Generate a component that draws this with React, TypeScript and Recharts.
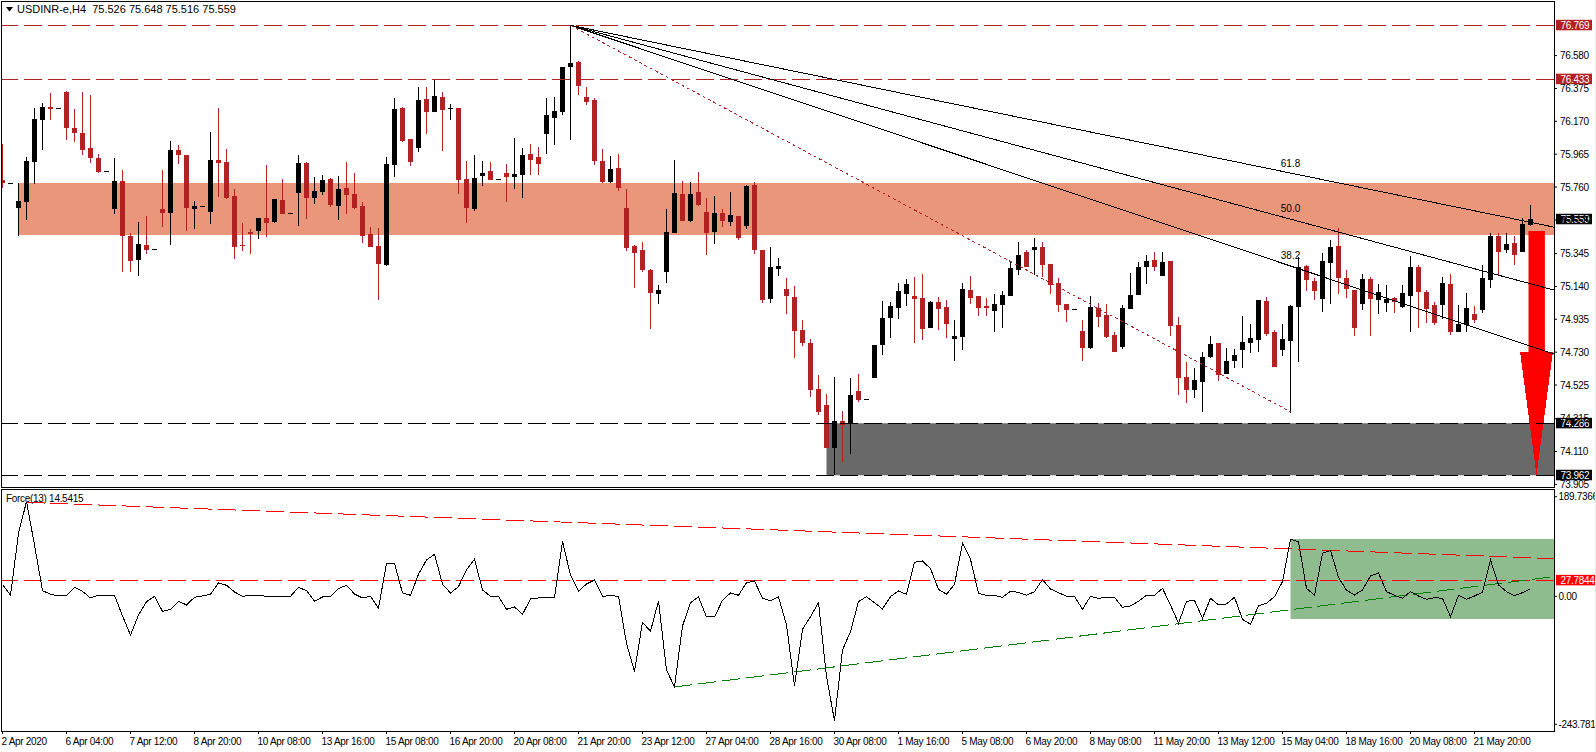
import React from "react";
import { ComposedChart, Bar, Line, XAxis, YAxis, ReferenceLine, ReferenceArea, ReferenceDot } from "recharts";

const highs = [
76.028,75.787,75.785,75.947,76.253,76.284,76.347,76.251,76.359,76.247,
76.353,76.334,75.966,75.858,75.941,75.866,75.473,75.542,75.579,75.371,
75.866,76.047,76.022,75.960,75.673,75.639,76.103,76.253,75.997,75.748,
75.535,75.498,75.567,75.897,75.685,75.810,75.596,75.960,75.914,75.823,
75.835,75.816,75.829,75.916,75.847,75.667,75.511,75.504,75.947,76.315,
76.259,76.060,76.384,76.384,76.430,76.353,76.278,76.253,75.922,75.960,
75.922,75.916,75.808,75.904,76.066,76.003,76.028,76.010,76.315,76.322,
76.509,76.769,76.546,76.384,76.315,75.997,75.954,75.966,75.748,75.398,
75.417,75.248,75.149,75.623,75.929,75.798,75.791,75.854,75.691,75.704,
75.623,75.729,75.579,75.773,75.791,75.367,75.386,75.317,75.192,75.142,
74.930,74.812,74.587,74.468,74.575,74.362,74.568,74.593,74.435,74.774,
75.049,75.043,75.161,75.186,75.199,75.217,75.049,75.074,75.055,74.930,
75.161,75.205,75.080,75.067,75.092,75.111,75.298,75.417,75.367,75.442,
75.417,75.280,75.192,75.030,74.997,74.930,75.080,75.036,75.030,74.855,
75.024,75.223,75.292,75.336,75.355,75.355,75.298,74.949,74.668,74.631,
74.731,74.830,74.787,74.755,74.749,74.955,74.905,75.055,75.074,74.868,
74.905,75.024,75.323,75.273,75.192,75.348,75.429,75.504,75.242,75.117,
75.217,75.199,75.155,75.149,75.074,75.149,75.330,75.273,75.117,75.043,
75.199,75.217,75.024,75.099,75.018,75.273,75.473,75.473,75.473,75.454,75.567,75.648];

const lows = [
75.756,75.787,75.456,75.554,75.779,75.991,76.178,76.251,76.053,76.041,
75.960,75.910,75.847,75.858,75.592,75.230,75.230,75.205,75.342,75.371,
75.511,75.398,75.904,75.486,75.498,75.639,75.529,75.698,75.685,75.311,
75.361,75.342,75.436,75.448,75.535,75.592,75.596,75.517,75.560,75.654,
75.710,75.635,75.554,75.592,75.623,75.411,75.386,75.055,75.267,75.823,
76.041,75.891,75.979,76.091,76.228,75.985,76.178,75.716,75.535,75.610,
75.766,75.804,75.808,75.667,75.748,75.691,75.835,75.835,75.966,76.022,
76.209,76.053,76.334,76.272,75.897,75.785,75.785,75.735,75.361,75.130,
75.230,74.874,75.030,75.161,75.473,75.548,75.542,75.642,75.336,75.404,
75.511,75.517,75.429,75.498,75.342,75.036,75.036,75.205,74.968,74.693,
74.768,74.450,74.337,74.131,73.961,74.044,74.094,74.419,74.435,74.568,
74.712,74.818,74.936,75.018,74.787,74.805,74.880,74.868,74.818,74.674,
74.743,75.030,74.955,74.955,74.855,74.880,75.080,75.211,75.261,75.211,
75.199,75.092,74.980,74.918,74.997,74.674,74.749,74.887,74.818,74.731,
74.749,74.999,75.086,75.155,75.236,75.205,74.830,74.462,74.412,74.443,
74.356,74.693,74.550,74.593,74.631,74.631,74.724,74.731,74.830,74.637,
74.706,74.350,74.668,75.111,75.055,74.980,75.030,75.092,75.067,74.830,
74.993,74.830,74.968,74.980,74.974,75.005,74.855,74.880,74.911,74.899,
74.936,74.837,74.855,74.855,74.911,74.974,75.130,75.211,75.348,75.273,75.355,75.516];

const opens = [
75.804,75.787,75.629,75.667,75.916,76.178,76.259,76.251,76.353,76.128,
76.097,76.003,75.941,75.858,75.623,75.798,75.454,75.305,75.398,75.371,
75.623,75.598,75.991,75.960,75.623,75.639,75.604,75.929,75.916,75.704,
75.398,75.479,75.486,75.567,75.542,75.679,75.596,75.723,75.910,75.691,
75.729,75.810,75.642,75.754,75.716,75.642,75.467,75.392,75.273,75.897,
76.253,76.060,76.003,76.309,76.228,76.322,76.247,76.253,75.810,75.621,
75.829,75.860,75.808,75.847,75.823,75.835,75.966,75.947,76.091,76.191,
76.228,76.509,76.540,76.322,76.303,75.922,75.791,75.879,75.629,75.392,
75.367,75.242,75.092,75.230,75.473,75.716,75.548,75.729,75.604,75.479,
75.598,75.542,75.579,75.517,75.773,75.367,75.061,75.248,75.124,75.074,
74.868,74.787,74.500,74.400,74.131,74.300,74.281,74.487,74.435,74.568,
74.774,74.943,75.005,75.092,75.080,75.067,74.880,75.043,75.011,74.812,
74.824,75.117,75.080,75.018,74.986,75.024,75.080,75.242,75.355,75.367,
75.386,75.280,75.161,75.030,74.997,74.862,74.755,75.005,74.961,74.837,
74.762,74.999,75.086,75.261,75.305,75.205,75.298,74.899,74.575,74.493,
74.543,74.699,74.787,74.593,74.674,74.743,74.787,74.805,75.049,74.855,
74.743,74.799,75.011,75.267,75.174,75.061,75.286,75.392,75.192,75.117,
75.030,75.186,75.055,75.036,75.067,75.011,75.080,75.261,75.105,75.024,
75.024,75.155,74.855,74.899,74.968,74.993,75.180,75.454,75.367,75.411,75.355,75.526];

const closes = [
75.787,75.787,75.673,75.922,76.184,76.259,76.247,76.251,76.128,76.097,
75.991,75.941,75.854,75.858,75.798,75.454,75.298,75.404,75.367,75.371,
75.598,75.991,75.960,75.629,75.642,75.639,75.929,75.910,75.691,75.386,
75.392,75.467,75.567,75.535,75.685,75.592,75.596,75.910,75.691,75.735,
75.804,75.648,75.748,75.710,75.629,75.454,75.386,75.280,75.904,76.247,
76.047,75.916,76.303,76.228,76.328,76.241,76.251,75.804,75.629,75.816,
75.847,75.804,75.808,75.823,75.841,75.960,75.929,75.904,76.209,76.234,
76.509,76.534,76.390,76.291,75.922,75.791,75.872,75.754,75.379,75.348,
75.242,75.099,75.117,75.479,75.723,75.548,75.716,75.648,75.473,75.598,
75.548,75.585,75.442,75.766,75.367,75.055,75.261,75.267,75.080,74.862,
74.787,74.493,74.356,74.131,74.300,74.275,74.462,74.431,74.435,74.774,
74.943,75.018,75.111,75.155,75.061,74.874,75.043,74.999,74.905,74.830,
75.124,75.067,75.005,75.005,75.030,75.086,75.255,75.336,75.261,75.386,
75.273,75.149,75.024,74.993,74.997,74.755,75.011,74.949,74.824,74.731,
75.005,75.086,75.261,75.298,75.261,75.292,74.893,74.568,74.493,74.556,
74.699,74.780,74.587,74.674,74.712,74.793,74.818,75.055,74.843,74.637,
74.812,75.018,75.261,75.180,75.111,75.298,75.386,75.192,75.124,74.880,
75.186,75.061,75.105,75.061,75.043,75.099,75.261,75.105,74.999,74.911,
75.161,74.855,74.905,75.005,74.930,75.192,75.454,75.355,75.404,75.336,75.529,75.559];

const force = [
22.2,1.9,120,180.3,97.8,10.8,3.8,0.6,1.9,17.1,
9.5,-3.2,1.9,0.6,1.9,-37.5,-73.7,-35.6,-10.2,0,
-28.6,-24.8,-9.5,-16.5,-1.9,0.6,3.8,25.4,21,8.3,
0,1.9,1.9,0,0,0,0,17.1,10.8,-9.5,
-1.3,0,14.6,21,4.4,-3.2,0,-22.9,62.9,62.9,
6.4,1.9,41.9,69.2,80,22.9,6.4,18.4,50.2,70.5,
12.1,0,0,-24.8,-20.3,-34.3,-5.1,-3.2,-3.2,-1.9,
104.8,40,9.5,23.5,31.1,0,1.3,0,-89.5,-143.5,
-49.5,-66.7,-8.9,-140.3,-172.7,-56.5,-12.1,-1.3,-39.4,-39.4,
-7.6,6.4,1.9,26,29.2,-3.8,-8.3,-1.3,-54.6,-170.8,
-62.9,-38.7,-12.1,-153,-236.9,-102.2,-67.3,-10.2,-0.6,-12.1,
-24.1,-0.6,10.2,3.8,64.8,67.3,52.7,13.3,3.8,22.9,
101,70.5,5.7,1.9,1.9,-1.9,9.5,7.6,1.9,8.9,
31.8,14,7,0,0,-24.8,0,-3.8,-1.9,-1.9,
-21,-18.4,-9.5,1.9,1.9,15.2,-16.5,-51.4,-9.5,-7.6,
-41.9,-3.8,-16.5,-14.6,-1.9,-43.8,-53.3,-17.8,-13.3,-0.6,
27.9,108.6,103.5,15.2,1.9,81.9,87.6,36.2,11.4,2.5,
12.1,38.7,44.5,8.9,1.9,-3.8,8.9,0.6,-5.7,-2.5,
-3.8,-38.7,1.9,-5.7,0.6,7.6,69.2,21.6,8.9,1.3,7,14.54];

const timeTickIndex = [0,8,16,24,32,40,48,56,64,72,80,88,96,104,112,120,128,136,144,152,160,168,176,184];
const timeTickLabels = ["2 Apr 2020","6 Apr 04:00","7 Apr 12:00","8 Apr 20:00","10 Apr 08:00","13 Apr 16:00","15 Apr 08:00","16 Apr 20:00","20 Apr 08:00","21 Apr 20:00","23 Apr 12:00","27 Apr 04:00","28 Apr 16:00","30 Apr 08:00","1 May 16:00","5 May 08:00","6 May 20:00","8 May 08:00","11 May 20:00","13 May 12:00","15 May 04:00","18 May 16:00","20 May 08:00","21 May 20:00"];
const priceTicks = [76.58,76.375,76.17,75.965,75.76,75.555,75.345,75.14,74.935,74.73,74.525,74.315,74.11,73.905];
const forceTicks = [189.7366,0,-243.7818];

const X_DOMAIN: [number, number] = [-0.0625, 193.9375];
const PRICE_DOMAIN: [number, number] = [73.8888, 76.9206];
const FORCE_DOMAIN: [number, number] = [-256.6, 202.5];
const X_END = X_DOMAIN[1];

const FONT = "'Liberation Sans', Arial, sans-serif";
const RUST = "#B22222";
const CRISP = "crispEdges" as const;

const rows = highs.map((h, i) => ({ i, high: h, low: lows[i], open: opens[i], close: closes[i], force: force[i], range: [lows[i], h] }));

function Candle(props: any) {
  const { x, y, width, height, payload } = props;
  const up = payload.close >= payload.open;
  const color = up ? "#000000" : RUST;
  const cx = Math.floor(x + width / 2);
  const span = payload.high - payload.low;
  const k = span > 0 ? height / span : 0;
  const bodyTop = y + (payload.high - Math.max(payload.open, payload.close)) * k;
  const bodyBottom = y + (payload.high - Math.min(payload.open, payload.close)) * k;
  const t = Math.round(bodyTop);
  const b = Math.max(Math.round(bodyBottom), t + 1);
  return (
    <g shapeRendering="crispEdges">
      {span > 0 && <rect x={cx} y={Math.round(y)} width={1} height={Math.max(Math.round(y + height) - Math.round(y), 1)} fill={color} />}
      <rect x={cx - 2} y={t} width={5} height={b - t} fill={color} />
    </g>
  );
}

function PriceTick(props: any) {
  const { x, y, payload } = props;
  return (
    <text x={x + 3} y={y + 3.6} fontFamily={FONT} fontSize={10} letterSpacing={-0.3} fill="#000">
      {payload.value.toFixed(3)}
    </text>
  );
}

function ForceTick(props: any) {
  const { x, y, payload } = props;
  const v = payload.value;
  return (
    <text x={x + 1.5} y={y + 3.6} fontFamily={FONT} fontSize={10} letterSpacing={-0.3} fill="#000">
      {v === 0 ? "0.00" : v.toFixed(4)}
    </text>
  );
}

function TimeTick(props: any) {
  const { x, y, payload } = props;
  const label = timeTickLabels[timeTickIndex.indexOf(payload.value)];
  return (
    <text x={x - 1} y={y + 11} fontFamily={FONT} fontSize={10} letterSpacing={-0.3} fill="#000">
      {label}
    </text>
  );
}

function tag(text: string, fill: string, w = 36) {
  return {
    content: (p: any) => {
      const vb = p.viewBox;
      const left = vb.x + vb.width + 2;
      return (
        <g>
          <rect x={left} y={vb.y - 5.5} width={w} height={10.5} fill={fill} />
          <text x={left + 4.5} y={vb.y + 3.4} fontFamily={FONT} fontSize={10} letterSpacing={-0.3} fill="#fff">{text}</text>
        </g>
      );
    },
  };
}

function ArrowHead(props: any) {
  const { x, y, width, height } = props;
  return <polygon points={`${x},${y} ${x + width},${y} ${x + width / 2},${y + height}`} fill="#FF0000" shapeRendering="crispEdges" />;
}

const fibLabel = (t: string) => ({ value: t, position: "center" as const, fontFamily: FONT, fontSize: 10, fill: "#000" });

export default function App() {
  const frame: React.CSSProperties = { position: "absolute", boxSizing: "border-box", border: "1px solid #000", left: 1, width: 1554, pointerEvents: "none" };
  return (
    <div style={{ position: "absolute", left: 0, top: 0, width: 1596, height: 752, overflow: "hidden", background: "#fff" }}>
      <div style={{ position: "absolute", left: 0, top: 0 }}>
        <ComposedChart width={1596} height={488} data={rows} margin={{ top: 1, right: 0, bottom: 1, left: 2 }} barGap={0}>
          <XAxis dataKey="i" type="number" domain={X_DOMAIN} hide allowDataOverflow />
          <YAxis orientation="right" width={42} domain={PRICE_DOMAIN} ticks={priceTicks} interval={0} allowDataOverflow axisLine={false} tickSize={3} tickMargin={0} tickLine={{ stroke: "#000" }} tick={<PriceTick />} />
          <ReferenceArea x1={2} x2={X_END} y1={75.461} y2={75.785} fill="#E9967A" fillOpacity={1} stroke="none" />
          <ReferenceArea x1={103} x2={X_END} y1={73.962} y2={74.286} fill="#696969" fillOpacity={1} stroke="none" />
          <ReferenceLine y={74.286} stroke="#000" strokeDasharray="18 6" shapeRendering={CRISP} label={tag("74.286", "#000")} />
          <ReferenceLine y={73.962} stroke="#000" strokeDasharray="18 6" shapeRendering={CRISP} label={tag("73.962", "#000")} />
          <ReferenceLine y={76.769} stroke={RUST} strokeDasharray="18 6" shapeRendering={CRISP} label={tag("76.769", RUST)} />
          <ReferenceLine y={76.433} stroke={RUST} strokeDasharray="18 6" shapeRendering={CRISP} label={tag("76.433", RUST)} />
          <Bar dataKey="range" barSize={5} shape={<Candle />} isAnimationActive={false} />
          <ReferenceLine segment={[{ x: 71, y: 76.769 }, { x: 161, y: 74.358 }]} stroke={RUST} strokeDasharray="3 3" shapeRendering={CRISP} />
          <ReferenceLine segment={[{ x: 71, y: 76.769 }, { x: X_END, y: 75.51 }]} stroke="#000" shapeRendering={CRISP} />
          <ReferenceLine segment={[{ x: 71, y: 76.769 }, { x: X_END, y: 75.117 }]} stroke="#000" shapeRendering={CRISP} />
          <ReferenceLine segment={[{ x: 71, y: 76.769 }, { x: X_END, y: 74.718 }]} stroke="#000" shapeRendering={CRISP} />
          <ReferenceDot x={161} y={75.91} r={0} stroke="none" fill="none" label={fibLabel("61.8")} />
          <ReferenceDot x={161} y={75.629} r={0} stroke="none" fill="none" label={fibLabel("50.0")} />
          <ReferenceDot x={161} y={75.336} r={0} stroke="none" fill="none" label={fibLabel("38.2")} />
          <ReferenceLine y={75.559} stroke="none" label={tag("75.559", "#000")} />
          <ReferenceArea x1={190.75} x2={192.8} y1={74.731} y2={75.486} fill="#FF0000" fillOpacity={1} stroke="none" />
          <ReferenceArea x1={189.7} x2={193.8} y1={73.962} y2={74.731} shape={<ArrowHead />} />
        </ComposedChart>
      </div>
      <div style={{ position: "absolute", left: 0, top: 489 }}>
        <ComposedChart width={1596} height={263} data={rows} margin={{ top: 1, right: 0, bottom: 0, left: 2 }}>
          <XAxis dataKey="i" type="number" domain={X_DOMAIN} height={21} ticks={timeTickIndex} interval={0} allowDataOverflow axisLine={false} tickSize={3} tickMargin={0} tickLine={{ stroke: "#000" }} tick={<TimeTick />} />
          <YAxis orientation="right" width={42} domain={FORCE_DOMAIN} ticks={forceTicks} interval={0} allowDataOverflow axisLine={false} tickSize={3} tickMargin={0} tickLine={{ stroke: "#000" }} tick={<ForceTick />} />
          <ReferenceArea x1={161} x2={X_END} y1={-43.2} y2={109.2} fill="#8FBC8F" fillOpacity={1} stroke="none" />
          <ReferenceLine y={30.4} stroke="#FF0000" strokeDasharray="18 6" shapeRendering={CRISP} label={tag("27.7844", "#FF0000", 39)} />
          <ReferenceLine segment={[{ x: 3, y: 179 }, { x: X_END, y: 71.8 }]} stroke="#FF0000" strokeDasharray="18 6" shapeRendering={CRISP} />
          <ReferenceLine segment={[{ x: 84, y: -172.7 }, { x: X_END, y: 37.5 }]} stroke="#008000" strokeDasharray="18 6" shapeRendering={CRISP} />
          <Line dataKey="force" stroke="#000" strokeWidth={1} dot={false} isAnimationActive={false} shapeRendering={CRISP} />
        </ComposedChart>
      </div>
      <div style={{ ...frame, top: 1, height: 487 }} />
      <div style={{ ...frame, top: 489, height: 243 }} />
      <div style={{ position: "absolute", left: 1595, top: 0, width: 1, height: 752, background: "#E6F0E4" }} />
      <svg width={10} height={6} style={{ position: "absolute", left: 6, top: 7 }}><polygon points="0,0 7,0 3.5,4.5" fill="#000" /></svg>
      <div style={{ position: "absolute", left: 17, top: 3, fontFamily: FONT, fontSize: 11, lineHeight: "13px", whiteSpace: "pre", color: "#000" }}>USDINR-e,H4  75.526 75.648 75.516 75.559</div>
      <div style={{ position: "absolute", left: 6, top: 493, fontFamily: FONT, fontSize: 10, lineHeight: "12px", letterSpacing: -0.3, whiteSpace: "pre", color: "#000" }}>Force(13) 14.5415</div>
    </div>
  );
}
